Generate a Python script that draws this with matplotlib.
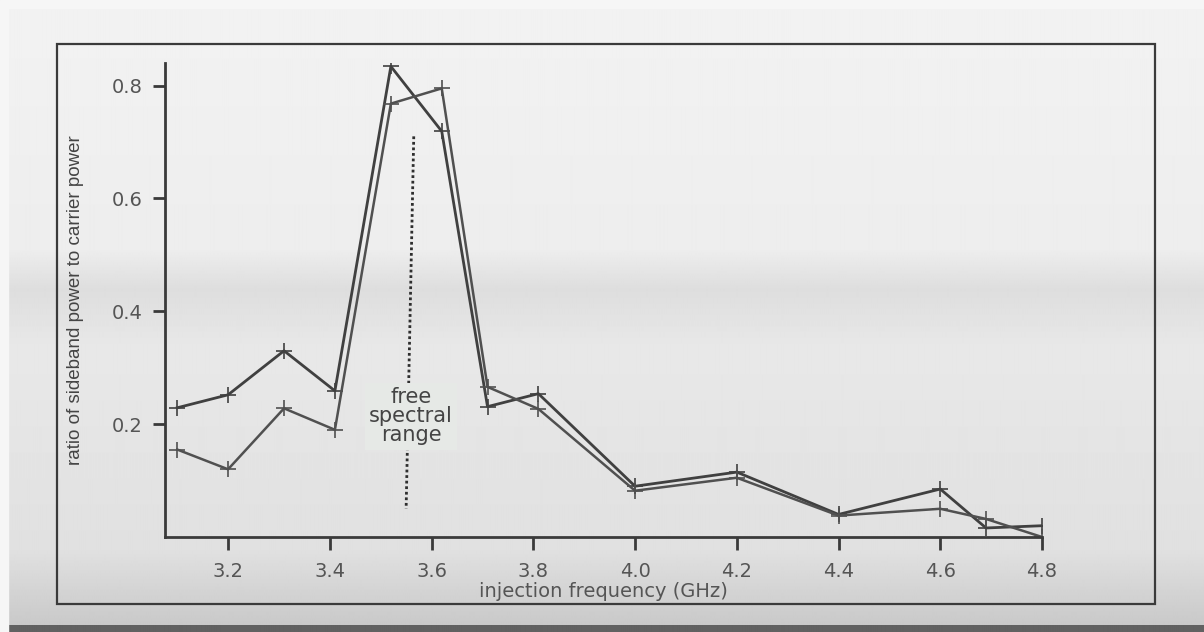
import numpy as np
import matplotlib
matplotlib.use("Agg")
import matplotlib.pyplot as plt
from matplotlib.patches import Rectangle

plt.rcParams['font.family'] = ['DejaVu Sans']

# injection frequency (GHz) and sideband/carrier ratios, two measurement runs
freq = [3.10, 3.20, 3.31, 3.41, 3.52, 3.62, 3.71, 3.81, 4.00, 4.20, 4.40, 4.60, 4.69, 4.80]
run_a = [0.229, 0.252, 0.330, 0.259, 0.834, 0.719, 0.231, 0.254, 0.090, 0.115, 0.040, 0.085, 0.016, 0.020]
run_b = [0.155, 0.120, 0.228, 0.190, 0.768, 0.795, 0.266, 0.227, 0.082, 0.105, 0.038, 0.050, 0.032, 0.000]

fsr_x = [3.565, 3.55]
fsr_y = [0.71, 0.05]

xticks = [3.2, 3.4, 3.6, 3.8, 4.0, 4.2, 4.4, 4.6, 4.8]
yticks = [0.2, 0.4, 0.6, 0.8]

W, H = 1204, 632
fig = plt.figure(figsize=(W / 100, H / 100), dpi=100)
fig.patch.set_facecolor('#e9ece9')

# scanned paper background: light at top, a grey smudge mid-page, greyer toward the bottom
bg = fig.add_axes([0, 0, 1, 1], zorder=-10)
grad = np.concatenate([np.linspace(0.95, 0.93, 250), np.linspace(0.93, 0.87, 40),
                       np.linspace(0.87, 0.91, 60), np.linspace(0.91, 0.88, 200),
                       np.linspace(0.88, 0.79, 75), np.full(7, 0.38)])
bg.imshow(np.tile(grad[:, None], (1, 10)), cmap='gray', vmin=0, vmax=1,
          aspect='auto', extent=[0, 1, 0, 1], interpolation='bilinear')
bg.add_patch(Rectangle((0, 0), 8 / W, 1, color='#f6f6f6', transform=bg.transAxes))
bg.add_patch(Rectangle((0, 1 - 8 / H), 1, 8 / H, color='#f6f6f6', transform=bg.transAxes))
# outer frame of the figure
bg.add_patch(Rectangle((57 / W, 1 - 604 / H), (1155 - 57) / W, (604 - 44) / H,
                       fill=False, lw=1.6, ec='#3a3a3a', transform=bg.transAxes))
bg.set_axis_off()

ax = fig.add_axes([165 / W, 1 - 537 / H, (1042 - 165) / W, (537 - 63) / H])
ax.patch.set_alpha(0)
ax.plot(freq, run_a, color='#404040', lw=2.0, marker='+', ms=12, mew=1.2)
ax.plot(freq, run_b, color='#505050', lw=1.8, marker='+', ms=12, mew=1.2)
ax.plot(fsr_x, fsr_y, color='#2e2e2e', lw=2.0, ls=(0, (1, 1.0)))
ax.text(3.56, 0.214, 'free\nspectral\nrange', ha='center', va='center', fontsize=15,
        color='#444444', linespacing=0.95,
        bbox=dict(facecolor='#e6e9e6', edgecolor='none', pad=3))

ax.set_xlim(3.076, 4.8)
ax.set_ylim(0, 0.84)
ax.set_xticks(xticks)
ax.set_xticklabels(['%.1f' % t for t in xticks])
ax.set_yticks(yticks)
ax.set_yticklabels(['%.1f' % t for t in yticks])
for s in ['top', 'right']:
    ax.spines[s].set_visible(False)
for s in ['left', 'bottom']:
    ax.spines[s].set_color('#3a3a3a')
    ax.spines[s].set_linewidth(2.0)
ax.tick_params(direction='out', length=9, width=2, color='#3a3a3a',
               labelsize=14, labelcolor='#555555', pad=7)
ax.tick_params(axis='x', pad=9)
ax.set_xlabel('injection frequency (GHz)', fontsize=14, color='#555555', labelpad=1)
ax.set_ylabel('ratio of sideband power to carrier power', fontsize=13.5, color='#444444',
              labelpad=20, family='Liberation Sans')

fig.savefig('out.png', dpi=100, facecolor=fig.get_facecolor())
